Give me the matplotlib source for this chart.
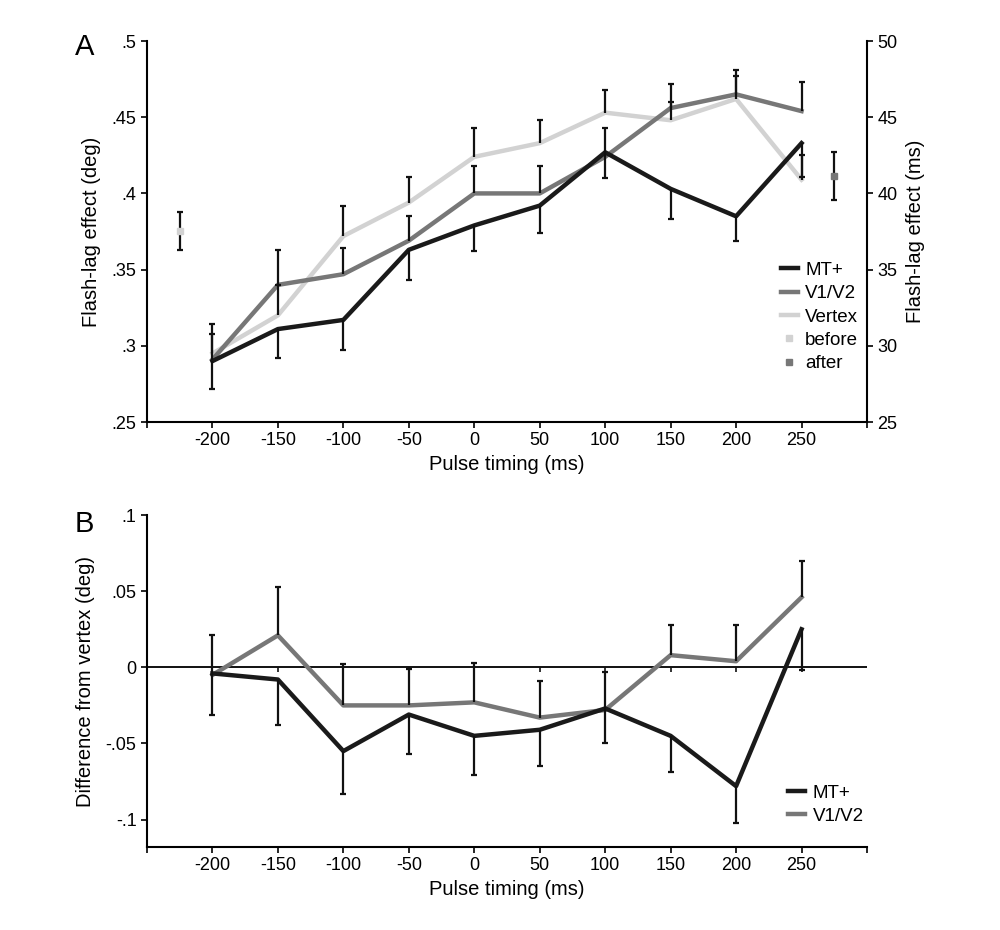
import numpy as np
import matplotlib
matplotlib.use("Agg")
import matplotlib.pyplot as plt
from matplotlib.lines import Line2D

plt.rcParams['font.family'] = ['Liberation Sans', 'DejaVu Sans']

# pulse timings (ms)
timing = [-200, -150, -100, -50, 0, 50, 100, 150, 200, 250]

# panel A: flash-lag effect (deg)
mt_a = [0.290, 0.311, 0.317, 0.363, 0.379, 0.392, 0.427, 0.403, 0.385, 0.433]
v12_a = [0.291, 0.340, 0.347, 0.369, 0.400, 0.400, 0.424, 0.456, 0.465, 0.454]
vtx_a = [0.295, 0.320, 0.372, 0.394, 0.424, 0.433, 0.453, 0.448, 0.462, 0.409]
mt_a_err = [0.018, 0.019, 0.020, 0.020, 0.017, 0.018, 0.017, 0.020, 0.016, 0.022]
v12_a_err = [0.017, 0.023, 0.017, 0.016, 0.018, 0.018, 0.019, 0.016, 0.016, 0.019]
vtx_a_err = [0.019, 0.020, 0.020, 0.017, 0.019, 0.015, 0.015, 0.012, 0.015, 0.016]

# baseline runs without TMS
before_x, before_y, before_err = -225, 0.3755, 0.0124
after_x, after_y, after_err = 275, 0.4114, 0.0159

# panel B: difference from vertex (deg)
mt_b = [-0.004, -0.008, -0.055, -0.031, -0.045, -0.041, -0.027, -0.045, -0.078, 0.025]
v12_b = [-0.005, 0.021, -0.025, -0.025, -0.023, -0.033, -0.028, 0.008, 0.004, 0.046]
mt_b_err = [0.027, 0.030, 0.028, 0.026, 0.026, 0.024, 0.023, 0.024, 0.024, 0.027]
v12_b_err = [0.026, 0.032, 0.027, 0.024, 0.026, 0.024, 0.025, 0.020, 0.024, 0.024]

c_mt = '#1a1a1a'
c_v12 = '#777777'
c_vtx = '#d2d2d2'
c_bar = '#111111'
lw = 3.2
fs_tick = 13
fs_label = 14.5

x_ticks = [-250, -200, -150, -100, -50, 0, 50, 100, 150, 200, 250, 300]
x_labels = [''] + [str(t) for t in timing] + ['']


def style_axis(ax):
    ax.spines['top'].set_visible(False)
    for s in ax.spines.values():
        s.set_linewidth(1.5)
    ax.tick_params(direction='out', length=4, width=1.2, labelsize=fs_tick)
    ax.set_xlim(-250, 300)
    ax.set_xticks(x_ticks)
    ax.set_xticklabels(x_labels)


def one_sided(ax, x, y, err, up=True):
    """error bar going only one way from the line, cap at the far end"""
    y = np.asarray(y)
    err = np.asarray(err)
    end = y + err if up else y - err
    ax.vlines(x, y, end, color=c_bar, lw=1.6, zorder=4)
    ax.plot(x, end, ls='none', marker='_', ms=5, mew=1.6, color=c_bar,
            zorder=4)


fig = plt.figure(figsize=(10, 9.3), dpi=100)

# ---- panel A ----
ax1 = fig.add_axes([0.147, 0.5462, 0.72, 0.4097])
style_axis(ax1)
ax1.spines['right'].set_visible(False)
ax1.plot(timing, vtx_a, color=c_vtx, lw=lw, zorder=2)
ax1.plot(timing, v12_a, color=c_v12, lw=lw, zorder=2)
ax1.plot(timing, mt_a, color=c_mt, lw=lw, zorder=3)
one_sided(ax1, timing, vtx_a, vtx_a_err, up=True)
one_sided(ax1, timing, v12_a, v12_a_err, up=True)
one_sided(ax1, timing, mt_a, mt_a_err, up=False)
ax1.errorbar([before_x], [before_y], yerr=[before_err], fmt='s', ms=4,
             color=c_vtx, ecolor=c_bar, elinewidth=1.6, capsize=2.5,
             capthick=1.6, zorder=5)
ax1.errorbar([after_x], [after_y], yerr=[after_err], fmt='s', ms=4,
             color=c_v12, ecolor=c_bar, elinewidth=1.6, capsize=2.5,
             capthick=1.6, zorder=5)
ax1.set_ylim(0.25, 0.5)
ax1.set_yticks([0.25, 0.3, 0.35, 0.4, 0.45, 0.5])
ax1.set_yticklabels(['.25', '.3', '.35', '.4', '.45', '.5'])
ax1.set_ylabel('Flash-lag effect (deg)', fontsize=fs_label, labelpad=8)
ax1.set_xlabel('Pulse timing (ms)', fontsize=fs_label, labelpad=4)

ax1r = ax1.twinx()
ax1r.spines['top'].set_visible(False)
ax1r.spines['left'].set_visible(False)
ax1r.spines['bottom'].set_visible(False)
ax1r.spines['right'].set_linewidth(1.5)
ax1r.set_ylim(25, 50)
ax1r.set_yticks([25, 30, 35, 40, 45, 50])
ax1r.tick_params(direction='out', length=4, width=1.2, labelsize=fs_tick)
ax1r.set_ylabel('Flash-lag effect (ms)', fontsize=fs_label, labelpad=6)

handles_a = [
    Line2D([], [], color=c_mt, lw=lw),
    Line2D([], [], color=c_v12, lw=lw),
    Line2D([], [], color=c_vtx, lw=lw),
    Line2D([], [], color=c_vtx, marker='s', ms=4, ls='none'),
    Line2D([], [], color=c_v12, marker='s', ms=4, ls='none'),
]
ax1r.legend(handles_a, ['MT+', 'V1/V2', 'Vertex', 'before', 'after'],
            loc='upper left', bbox_to_anchor=(0.87, 0.44), frameon=False,
            fontsize=13.5, handlelength=0.9, handletextpad=0.4,
            labelspacing=0.33, borderaxespad=0)
fig.text(0.075, 0.9495, 'A', fontsize=21, ha='left', va='center')

# ---- panel B ----
ax2 = fig.add_axes([0.147, 0.0892, 0.72, 0.357])
style_axis(ax2)
ax2.spines['right'].set_visible(False)
ax2.axhline(0, color=c_bar, lw=1.4, zorder=1)
ax2.vlines(timing, -0.003, 0, color=c_bar, lw=1.2, zorder=1)
ax2.plot(timing, v12_b, color=c_v12, lw=lw, zorder=2)
ax2.plot(timing, mt_b, color=c_mt, lw=lw, zorder=3)
one_sided(ax2, timing, v12_b, v12_b_err, up=True)
one_sided(ax2, timing, mt_b, mt_b_err, up=False)
ax2.set_ylim(-0.118, 0.1)
ax2.set_yticks([-0.1, -0.05, 0, 0.05, 0.1])
ax2.set_yticklabels(['-.1', '-.05', '0', '.05', '.1'])
ax2.set_ylabel('Difference from vertex (deg)', fontsize=fs_label, labelpad=8)
ax2.set_xlabel('Pulse timing (ms)', fontsize=fs_label, labelpad=4)

handles_b = [Line2D([], [], color=c_mt, lw=lw),
             Line2D([], [], color=c_v12, lw=lw)]
ax2.legend(handles_b, ['MT+', 'V1/V2'], loc='upper left',
           bbox_to_anchor=(0.88, 0.21), frameon=False, fontsize=13.5,
           handlelength=0.9, handletextpad=0.4, labelspacing=0.3,
           borderaxespad=0)
fig.text(0.075, 0.4366, 'B', fontsize=21, ha='left', va='center')

fig.savefig('out.png', dpi=100)
